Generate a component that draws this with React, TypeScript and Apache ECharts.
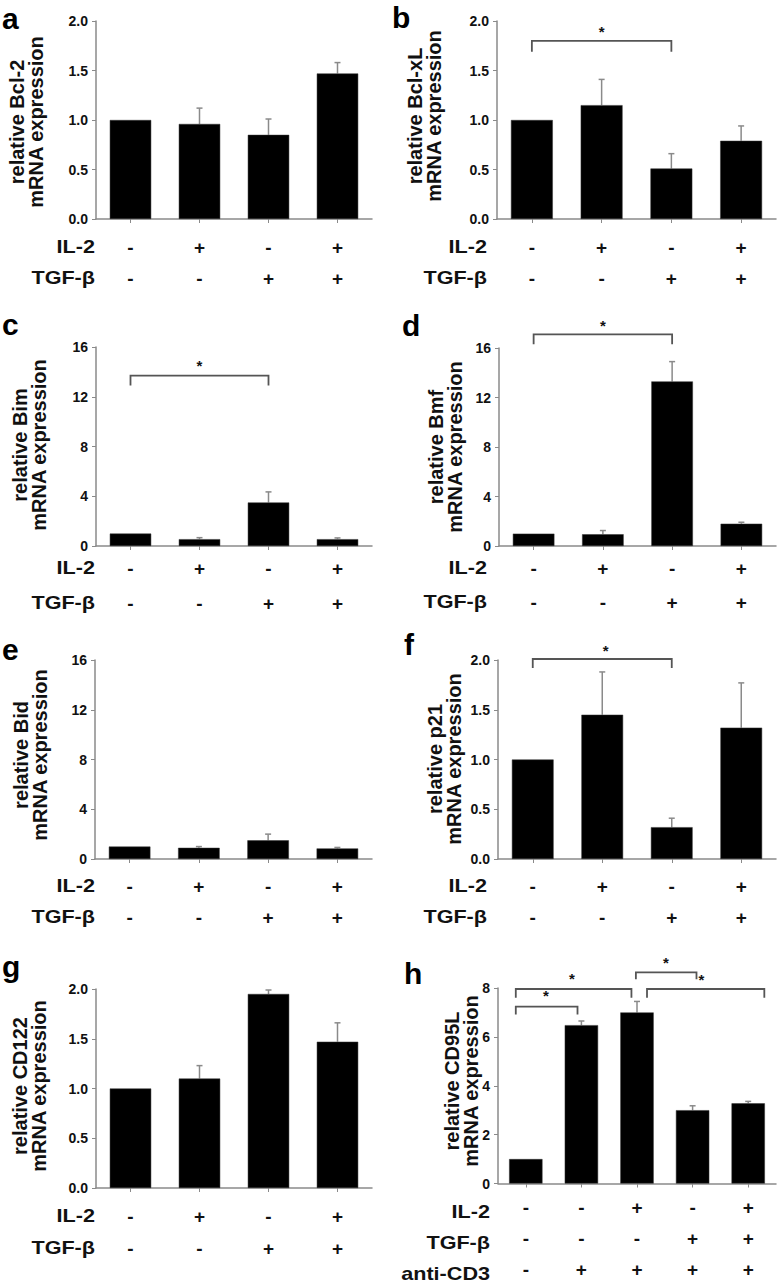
import React, { useEffect, useRef } from 'react';
import * as echarts from 'echarts';

const FONT = '"Liberation Sans", Arial, Helvetica, sans-serif';

// categories
const conditions4 = ['1', '2', '3', '4'];
const conditions5 = ['1', '2', '3', '4', '5'];
const il2Signs4 = ['-', '+', '-', '+'];
const tgfSigns4 = ['-', '-', '+', '+'];
const il2Signs5 = ['-', '-', '+', '-', '+'];
const tgfSigns5 = ['-', '-', '-', '+', '+'];
const cd3Signs5 = ['-', '+', '+', '+', '+'];

// series values (mean, error)
const bcl2Mean = [1.0, 0.96, 0.85, 1.47];
const bcl2Err = [0, 0.16, 0.16, 0.11];
const bclxlMean = [1.0, 1.15, 0.51, 0.79];
const bclxlErr = [0, 0.26, 0.15, 0.15];
const bimMean = [1.0, 0.55, 3.5, 0.55];
const bimErr = [0, 0.12, 0.85, 0.1];
const bmfMean = [1.0, 0.95, 13.3, 1.8];
const bmfErr = [0, 0.3, 1.6, 0.12];
const bidMean = [1.0, 0.9, 1.5, 0.85];
const bidErr = [0, 0.1, 0.5, 0.08];
const p21Mean = [1.0, 1.45, 0.32, 1.32];
const p21Err = [0, 0.43, 0.09, 0.45];
const cd122Mean = [1.0, 1.1, 1.95, 1.47];
const cd122Err = [0, 0.13, 0.04, 0.19];
const cd95lMean = [1.0, 6.48, 7.0, 3.0, 3.28];
const cd95lErr = [0, 0.17, 0.45, 0.18, 0.08];

// significance brackets: [from, to, top, bottom, starPos, starValue]
const bracketsB = [[0, 2, 1.8, 1.69, 1.0, 1.89]];
const bracketsC = [[0, 2, 13.7, 12.9, 1.0, 14.5]];
const bracketsD = [[0, 2, 17.1, 16.3, 1.0, 17.8]];
const bracketsF = [[0, 2, 2.01, 1.92, 1.05, 2.1]];
const bracketsH = [
  [-0.18, 0.93, 7.24, 6.92, 0.36, 7.68],
  [-0.18, 1.9, 7.96, 7.6, 0.83, 8.4],
  [1.98, 3.07, 8.64, 8.36, 2.52, 9.04],
  [2.18, 4.29, 7.96, 7.6, 3.16, 8.36],
];

// axis tick ranges
const axisMax = { ratio: 2, fold: 16, cd95l: 8 };
const axisStep = { ratio: 0.5, fold: 4, cd95l: 2 };

const panels = [
  { id: 'a', cats: conditions4, mean: bcl2Mean, err: bcl2Err, title: 'relative Bcl-2\nmRNA expression', max: axisMax.ratio, step: axisStep.ratio, dec: 1, rows: [il2Signs4, tgfSigns4], rowNames: ['IL-2', 'TGF-β'], brackets: [],
    L: { left: 96, top: 21, width: 276, height: 198, lx: 2, lb: 29, tx: 26, ty: 122, rx: 95, ry: 247, lh: 31 } },
  { id: 'b', cats: conditions4, mean: bclxlMean, err: bclxlErr, title: 'relative Bcl-xL\nmRNA expression', max: axisMax.ratio, step: axisStep.ratio, dec: 1, rows: [il2Signs4, tgfSigns4], rowNames: ['IL-2', 'TGF-β'], brackets: bracketsB,
    L: { left: 497, top: 21, width: 279, height: 198, lx: 392, lb: 28, tx: 424, ty: 116, rx: 487, ry: 247, lh: 31 } },
  { id: 'c', cats: conditions4, mean: bimMean, err: bimErr, title: 'relative Bim\nmRNA expression', max: axisMax.fold, step: axisStep.fold, dec: 0, rows: [il2Signs4, tgfSigns4], rowNames: ['IL-2', 'TGF-β'], brackets: bracketsC,
    L: { left: 96, top: 347, width: 276, height: 199, lx: 2, lb: 335, tx: 29, ty: 445, rx: 95, ry: 568, lh: 35 } },
  { id: 'd', cats: conditions4, mean: bmfMean, err: bmfErr, title: 'relative Bmf\nmRNA expression', max: axisMax.fold, step: axisStep.fold, dec: 0, rows: [il2Signs4, tgfSigns4], rowNames: ['IL-2', 'TGF-β'], brackets: bracketsD,
    L: { left: 499, top: 348, width: 277, height: 198, lx: 402, lb: 336, tx: 445, ty: 447, rx: 487, ry: 568, lh: 34 } },
  { id: 'e', cats: conditions4, mean: bidMean, err: bidErr, title: 'relative Bid\nmRNA expression', max: axisMax.fold, step: axisStep.fold, dec: 0, rows: [il2Signs4, tgfSigns4], rowNames: ['IL-2', 'TGF-β'], brackets: [],
    L: { left: 95, top: 660, width: 277, height: 199, lx: 2, lb: 660, tx: 30, ty: 755, rx: 95, ry: 886, lh: 31 } },
  { id: 'f', cats: conditions4, mean: p21Mean, err: p21Err, title: 'relative p21\nmRNA expression', max: axisMax.ratio, step: axisStep.ratio, dec: 1, rows: [il2Signs4, tgfSigns4], rowNames: ['IL-2', 'TGF-β'], brackets: bracketsF,
    L: { left: 498, top: 660, width: 278, height: 199, lx: 404, lb: 655, tx: 444, ty: 759, rx: 487, ry: 886, lh: 31 } },
  { id: 'g', cats: conditions4, mean: cd122Mean, err: cd122Err, title: 'relative CD122\nmRNA expression', max: axisMax.ratio, step: axisStep.ratio, dec: 1, rows: [il2Signs4, tgfSigns4], rowNames: ['IL-2', 'TGF-β'], brackets: [],
    L: { left: 96, top: 989, width: 276, height: 199, lx: 2, lb: 977, tx: 29, ty: 1086, rx: 95, ry: 1216, lh: 32 } },
  { id: 'h', cats: conditions5, mean: cd95lMean, err: cd95lErr, title: 'relative CD95L\nmRNA expression', max: axisMax.cd95l, step: axisStep.cd95l, dec: 0, rows: [il2Signs5, tgfSigns5, cd3Signs5], rowNames: ['IL-2', 'TGF-β', 'anti-CD3'], brackets: bracketsH,
    L: { left: 498, top: 988, width: 278, height: 200, lx: 404, lb: 984, tx: 461, ty: 1081, rx: 490, ry: 1212, lh: 31 } },
];

const AXIS_COLOR = '#8a8a8a';

function buildOption() {
  const grid: any[] = [];
  const xAxis: any[] = [];
  const yAxis: any[] = [];
  const series: any[] = [];
  const graphics: any[] = [];

  panels.forEach((p, i) => {
    const L = p.L;
    grid.push({ left: L.left, top: L.top, width: L.width, height: L.height, containLabel: false });
    const axisY = L.top + L.height;
    const margin = L.ry - axisY - L.lh / 2;
    xAxis.push({
      type: 'category', gridIndex: i, data: p.cats,
      axisLine: { lineStyle: { color: AXIS_COLOR, width: 1.5 } },
      axisTick: { show: true, alignWithLabel: true, length: 4, lineStyle: { color: AXIS_COLOR } },
      axisLabel: {
        interval: 0, margin, lineHeight: L.lh, fontSize: 19, fontWeight: 'bold', fontFamily: FONT, color: '#111',
        formatter: (_v: string, idx: number) => p.rows.map((r) => r[idx]).join('\n'),
      },
    });
    yAxis.push({
      type: 'value', gridIndex: i, min: 0, max: p.max, interval: p.step,
      axisLine: { show: true, lineStyle: { color: AXIS_COLOR, width: 1.5 } },
      axisTick: { show: true, length: 4, lineStyle: { color: AXIS_COLOR } },
      splitLine: { show: false },
      axisLabel: {
        margin: 8, fontSize: 14, fontWeight: 'bold', fontFamily: FONT, color: '#111',
        formatter: (v: number) => (p.dec ? v.toFixed(1) : String(v)),
      },
    });
    series.push({
      type: 'bar', xAxisIndex: i, yAxisIndex: i, data: p.mean, barWidth: '60%',
      itemStyle: { color: '#000', borderColor: '#333', borderWidth: 0.5 },
      z: 2,
    });
    series.push({
      type: 'custom', xAxisIndex: i, yAxisIndex: i, clip: false, z: 1,
      data: p.mean.map((m, k) => [k, m, m + p.err[k]]).filter((d) => d[2] > d[1]),
      renderItem: (_params: any, api: any) => {
        const p0 = api.coord([api.value(0), api.value(1)]);
        const p1 = api.coord([api.value(0), api.value(2)]);
        return {
          type: 'group',
          children: [
            { type: 'line', shape: { x1: p0[0], y1: p0[1], x2: p1[0], y2: p1[1] }, style: { stroke: '#8a8a8a', lineWidth: 1.5 } },
            { type: 'line', shape: { x1: p1[0] - 3, y1: p1[1], x2: p1[0] + 3, y2: p1[1] }, style: { stroke: '#8a8a8a', lineWidth: 1.5 } },
          ],
        };
      },
    });
    if (p.brackets.length) {
      series.push({
        type: 'custom', xAxisIndex: i, yAxisIndex: i, clip: false, z: 3,
        encode: { x: 0, y: 1 },
        data: p.brackets.map((b) => [0, b[2], b[0], b[1], b[3], b[4], b[5]]),
        renderItem: (_params: any, api: any) => {
          const top = api.value(1);
          const from = api.value(2);
          const to = api.value(3);
          const bottom = api.value(4);
          const sp = api.value(5);
          const sv = api.value(6);
          const c0 = api.coord([0, top]);
          const c1 = api.coord([1, top]);
          const band = c1[0] - c0[0];
          const X = (t: number) => c0[0] + t * band;
          const yT = c0[1];
          const yB = api.coord([0, bottom])[1];
          const yS = api.coord([0, sv])[1];
          return {
            type: 'group',
            children: [
              { type: 'polyline', shape: { points: [[X(from), yB], [X(from), yT], [X(to), yT], [X(to), yB]] }, style: { stroke: '#555', lineWidth: 1.8, fill: null } },
              { type: 'text', x: X(sp), y: yS, style: { text: '*', fill: '#111', font: `bold 15px ${FONT}`, textAlign: 'center', textVerticalAlign: 'middle' } },
            ],
          };
        },
      });
    }
    // panel letter
    graphics.push({ type: 'text', x: L.lx, y: L.lb - 10.5, style: { text: p.id, fill: '#000', font: `bold 30px ${FONT}`, textAlign: 'left', textVerticalAlign: 'middle' } });
    // y title
    graphics.push({ type: 'text', x: L.tx, y: L.ty, rotation: Math.PI / 2, style: { text: p.title, fill: '#111', font: `bold 20px ${FONT}`, lineHeight: 19, textAlign: 'center', textVerticalAlign: 'middle' } });
    // row names
    p.rowNames.forEach((name, k) => {
      graphics.push({ type: 'text', x: L.rx, y: L.ry + k * L.lh, scaleX: 1.2, style: { text: name, fill: '#111', font: `bold 18px ${FONT}`, textAlign: 'right', textVerticalAlign: 'middle' } });
    });
  });

  return { animation: false, backgroundColor: '#fff', grid, xAxis, yAxis, series, graphic: { elements: graphics } };
}

export default function App() {
  const ref = useRef<HTMLDivElement>(null);
  useEffect(() => {
    if (!ref.current) return;
    const chart = echarts.init(ref.current, undefined, { renderer: 'svg' });
    chart.setOption(buildOption() as any);
    return () => chart.dispose();
  }, []);
  return <div ref={ref} style={{ position: 'absolute', left: 0, top: 0, width: 779, height: 1285, background: '#fff' }} />;
}
